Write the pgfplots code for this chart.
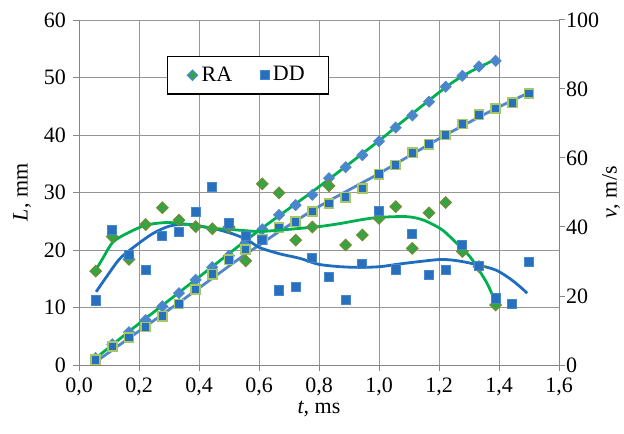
\documentclass[border=0pt]{standalone}
\usepackage{fontspec}
\setmainfont{Liberation Serif}
\usepackage{pgfplots}
\pgfplotsset{compat=1.18}
\usepackage{pgfplotstable}

\definecolor{lgreen}{RGB}{0,176,80}
\definecolor{vblue}{RGB}{31,110,190}
\definecolor{lblue}{RGB}{85,135,200}
\definecolor{mfill}{RGB}{40,112,190}
\definecolor{dfill}{RGB}{70,135,205}
\definecolor{gfill}{RGB}{50,165,70}
\definecolor{olive}{RGB}{115,140,50}
\definecolor{pale}{RGB}{165,200,100}
\definecolor{gridc}{RGB}{150,150,150}
\definecolor{axc}{RGB}{134,134,134}

% RA: L (mm), v (m/s)
\pgfplotstableread{
t      L     v
0.0556 1.2   27.2
0.1111 3.6   37.2
0.1667 5.7   30.6
0.2222 7.8   40.7
0.2778 10.2  45.6
0.3333 12.5  42.0
0.3889 14.8  40.1
0.4444 17.0  39.5
0.5000 19.0  40.0
0.5556 21.3  30.2
0.6111 23.6  52.5
0.6667 26.1  49.9
0.7222 27.8  36.2
0.7778 29.6  40.0
0.8333 32.5  51.9
0.8889 34.4  34.8
0.9444 36.5  37.7
1.0000 38.9  42.5
1.0556 41.3  45.9
1.1111 43.4  33.8
1.1667 45.8  44.1
1.2222 48.4  47.1
1.2778 50.3  32.9
1.3333 51.9  28.5
1.3889 52.9  17.4
}\ra

% DD: L (mm), v (m/s)
\pgfplotstableread{
t      L     v
0.0556 0.9   18.7
0.1111 3.2   39.1
0.1667 4.8   31.9
0.2222 6.6   27.5
0.2778 8.5   37.5
0.3333 10.6  38.6
0.3889 13.1  44.3
0.4444 15.8  51.7
0.5000 18.3  41.0
0.5556 20.1  37.5
0.6111 21.8  36.2
0.6667 23.9  21.6
0.7222 24.9  22.7
0.7778 26.7  31.1
0.8333 28.1  25.6
0.8889 29.2  18.8
0.9444 30.7  29.2
1.0000 33.2  44.7
1.0556 34.8  27.7
1.1111 36.9  38.0
1.1667 38.4  26.1
1.2222 40.0  27.5
1.2778 41.9  34.8
1.3333 43.5  28.6
1.3889 44.6  19.3
1.4444 45.6  17.7
1.5000 47.2  29.9
}\dd

\begin{document}
\begin{tikzpicture}[font=\fontsize{11}{13}\selectfont]
\pgfplotsset{
  common/.style={
    scale only axis, width=240pt, height=172.5pt,
    xmin=0, xmax=1.6,
    axis line style={axc, -},
    tick style={axc, line width=0.5pt},
    tick align=outside,
    major tick length=3pt,
    /pgf/number format/assume math mode=true,
  },
}
\begin{axis}[common,
  axis x line*=bottom, axis y line*=left,
  ymin=0, ymax=60, ytick={0,10,...,60},
  xtick={0,0.2,...,1.6},
  xticklabel style={/pgf/number format/.cd, fixed, fixed zerofill, precision=1, use comma},
  grid=major, grid style={gridc, line width=0.5pt},
  legend style={at={(rel axis cs:0.183,0.896)}, anchor=north west,
    draw=black, line width=0.6pt, fill=white, inner xsep=10pt, inner ysep=3pt,
    legend columns=2, /tikz/every even column/.append style={column sep=12pt},
    font=\fontsize{11}{13}\selectfont},
  legend cell align=left,
]
\coordinate (sw) at (rel axis cs:0,0);
\coordinate (ne) at (rel axis cs:1,1);
\coordinate (rm) at (rel axis cs:1,0.5);
\coordinate (lm) at (rel axis cs:0,0.5);
\coordinate (bm) at (rel axis cs:0.5,0);
\addlegendimage{only marks, mark=square*, mark size=1.8pt, mark options={rotate=45, fill=gfill, draw=dfill, line width=0.6pt}}
\addlegendentry{RA}
\addlegendimage{only marks, mark=square*, mark size=2.2pt, mark options={fill=mfill, draw=dfill, line width=0.4pt}}
\addlegendentry{DD}
\addplot[only marks, mark=square*, mark size=1.9pt, mark options={rotate=45, fill=dfill, draw=lblue, line width=0.5pt}, forget plot] table[x=t, y=L] {\ra};
\addplot[only marks, mark=square*, mark size=2.3pt, mark options={fill=mfill, draw=pale, line width=0.8pt}, forget plot] table[x=t, y=L] {\dd};
% trend lines for L
\addplot[lblue, line width=1.4pt, smooth, forget plot] coordinates {
  (0.057,0.6) (0.337,11.0) (0.537,18.6) (0.603,20.9) (0.667,23.2) (0.798,27.5)
  (0.937,31.5) (1.0,33.3) (1.222,40.0) (1.389,44.6) (1.498,47.3)};
\addplot[lgreen, line width=1.4pt, smooth, forget plot] coordinates {
  (0.056,1.2) (0.2,7.2) (0.4,15.3) (0.6,23.4) (0.8,31.0) (1.0,39.0) (1.07,42.0)
  (1.22,48.2) (1.28,50.3) (1.331,51.7) (1.39,53.2)};
\end{axis}
\begin{axis}[common,
  axis y line*=right, hide x axis,
  ymin=0, ymax=100, ytick={0,20,...,100},
  yticklabel style={xshift=-3pt},
]
\addplot[only marks, mark=square*, mark size=2.0pt, mark options={rotate=45, fill=gfill, draw=olive, line width=0.6pt}] table[x=t, y=v] {\ra};
\addplot[only marks, mark=square*, mark size=2.3pt, mark options={fill=mfill, draw=dfill, line width=0.5pt}] table[x=t, y=v] {\dd};
\addplot[vblue, line width=1.4pt, smooth] coordinates {
  (0.057,21.2) (0.092,25.6) (0.137,30.9) (0.192,34.8) (0.248,38.2) (0.303,40.3)
  (0.359,40.8) (0.414,40.1) (0.47,39.1) (0.526,37.6) (0.57,35.8) (0.603,34.0)
  (0.67,32.2) (0.737,30.9) (0.798,29.2) (0.87,28.5) (0.937,28.3) (1.003,28.5)
  (1.07,29.3) (1.137,30.0) (1.21,30.6) (1.27,30.1) (1.33,29.0) (1.39,27.5)
  (1.437,25.0) (1.47,22.7) (1.494,20.8)};
\addplot[lgreen, line width=1.4pt, smooth] coordinates {
  (0.057,27.7) (0.08,31.0) (0.114,35.7) (0.17,38.6) (0.226,40.6) (0.292,41.3)
  (0.337,41.0) (0.392,40.4) (0.448,39.6) (0.503,39.3) (0.559,38.9) (0.603,38.7)
  (0.67,39.1) (0.797,40.1) (0.87,41.0) (0.947,42.2) (1.003,42.8) (1.092,43.0)
  (1.148,42.0) (1.21,39.2) (1.262,35.0) (1.303,31.4) (1.337,27.0) (1.363,23.2)
  (1.387,18.4)};
\end{axis}
\node[rotate=90, anchor=north] at ([xshift=18pt]rm) {\textit{v}, m/s};
\node[rotate=90, anchor=south] at ([xshift=-20.5pt]lm) {\textit{L}, mm};
\node[anchor=north] at ([yshift=-14.5pt]bm) {\textit{t}, ms};
\pgfresetboundingbox
\path ([shift={(-39.5pt,-34pt)}]sw) rectangle ([shift={(32.5pt,10pt)}]ne);
\end{tikzpicture}
\end{document}
